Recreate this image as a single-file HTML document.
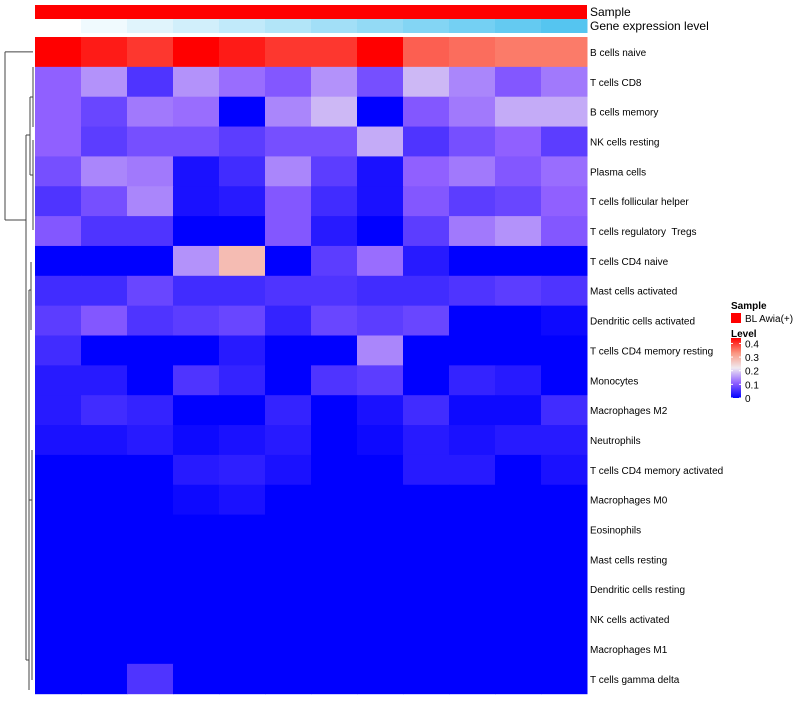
<!DOCTYPE html>
<html><head><meta charset="utf-8"><style>
body{margin:0;background:#fff;}
svg text{font-family:"Liberation Sans",sans-serif;white-space:pre;}
</style></head><body>
<svg id="chart" width="800" height="700" viewBox="0 0 800 700" xmlns="http://www.w3.org/2000/svg">
<g id="dend" stroke="#444" stroke-width="1" fill="none"></g>
<g id="cells"></g>
<g id="labels"></g>
<g id="legend"></g>
</svg>
<script>
const rowNames=["B cells naive","T cells CD8","B cells memory","NK cells resting","Plasma cells","T cells follicular helper","T cells regulatory\u00a0 Tregs","T cells CD4 naive","Mast cells activated","Dendritic cells activated","T cells CD4 memory resting","Monocytes","Macrophages M2","Neutrophils","T cells CD4 memory activated","Macrophages M0","Eosinophils","Mast cells resting","Dendritic cells resting","NK cells activated","Macrophages M1","T cells gamma delta"];
const values=[
[0.44,0.42,0.40,0.44,0.42,0.40,0.40,0.44,0.37,0.36,0.35,0.35],
[0.11,0.15,0.06,0.15,0.12,0.10,0.15,0.09,0.18,0.14,0.10,0.13],
[0.11,0.08,0.13,0.12,0,0.14,0.18,0,0.10,0.13,0.17,0.17],
[0.11,0.07,0.09,0.09,0.07,0.09,0.09,0.17,0.06,0.09,0.11,0.07],
[0.09,0.14,0.13,0.02,0.05,0.14,0.07,0.02,0.11,0.13,0.10,0.12],
[0.06,0.09,0.14,0.02,0.03,0.10,0.05,0.02,0.10,0.07,0.08,0.11],
[0.10,0.06,0.06,0,0,0.10,0.03,0,0.07,0.13,0.15,0.10],
[0,0,0,0.15,0.28,0,0.07,0.12,0.03,0,0,0],
[0.05,0.05,0.08,0.05,0.05,0.06,0.06,0.05,0.05,0.06,0.07,0.06],
[0.07,0.10,0.06,0.07,0.08,0.04,0.08,0.07,0.08,0,0,0.01],
[0.05,0,0,0,0.03,0,0,0.14,0,0,0,0],
[0.03,0.03,0,0.06,0.04,0,0.06,0.07,0,0.04,0.03,0],
[0.03,0.05,0.04,0,0,0.04,0,0.02,0.05,0.01,0.01,0.05],
[0.02,0.02,0.03,0.01,0.02,0.03,0,0.01,0.03,0.02,0.03,0.03],
[0,0,0,0.03,0.035,0.02,0,0,0.03,0.03,0,0.02],
[0,0,0,0.01,0.02,0,0,0,0,0,0,0],
[0,0,0,0,0,0,0,0,0,0,0,0],
[0,0,0,0,0,0,0,0,0,0,0,0],
[0,0,0,0,0,0,0,0,0,0,0,0],
[0,0,0,0,0,0,0,0,0,0,0,0],
[0,0,0,0,0,0,0,0,0,0,0,0],
[0,0,0.06,0,0,0,0,0,0,0,0,0]];
const geneLevel=[0,1,2,3,4,5,6,7,8,9,10,11];
const legendTicks=[0.4,0.3,0.2,0.1,0];

const NS="http://www.w3.org/2000/svg";
const x0=35,cw=46,y0=37,rh=29.85;
const xPos=i=>x0+i*cw, yPos=r=>y0+r*rh;
const stops=[[0,[0,0,255]],[0.11,[144,96,255]],[0.22,[240,234,240]],[0.33,[250,150,128]],[0.44,[255,0,0]]];
function col(v){v=Math.max(0,Math.min(0.44,v));for(let i=0;i<stops.length-1;i++){const[a,ca]=stops[i],[b,cb]=stops[i+1];if(v<=b){const t=(v-a)/(b-a);return`rgb(${ca.map((c,k)=>Math.round(c+(cb[k]-c)*t)).join(',')})`;}}return'red';}
function mk(tag,attrs,parent){const e=document.createElementNS(NS,tag);for(const k in attrs)e.setAttribute(k,attrs[k]);parent.appendChild(e);return e;}
const cells=document.getElementById('cells'),labels=document.getElementById('labels'),leg=document.getElementById('legend');
const sb=mk('rect',{x:x0,y:5,width:cw*12,height:14,fill:'#ff0000'},cells);


const gmax=Math.max(...geneLevel);
geneLevel.forEach((g,i)=>{const t=g/gmax;
 const r=mk('rect',{x:xPos(i),y:19,width:cw+0.5,height:14,fill:`rgb(${Math.round(255-(255-85)*t)},${Math.round(255-(255-197)*t)},${Math.round(255-(255-240)*t)})`},cells);
 
 });
let t1=mk('text',{x:590,y:16,'font-size':12},labels);t1.textContent='Sample';


let t2=mk('text',{x:590,y:30,'font-size':12},labels);t2.textContent='Gene expression level';


values.forEach((row,r)=>{row.forEach((v,c)=>{
 const e=mk('rect',{x:xPos(c),y:yPos(r),width:cw+0.5,height:rh+0.5,fill:col(v)},cells);
 
 });
 const t=mk('text',{x:590,y:yPos(r)+rh/2+4,'font-size':10},labels);t.textContent=rowNames[r];
 
 });
const d=document.getElementById('dend');
const yc=r=>yPos(r)+rh/2;
const segs=[[5,yc(0),5,220],[5,yc(0),33,yc(0)],[5,220,26,220],
[26,135,26,660],[26,135,30,135],[30,97,30,175],[30,97,33,97],[33,67,33,127],[30,175,33,175],[33,140,33,230],
[26,660,29,660],[29,290,29,690],[29,290,31,290],[31,262,31,330],[29,500,32,500],[32,450,32,680]];
segs.forEach(s=>{const l=mk('line',{x1:s[0],y1:s[1],x2:s[2],y2:s[3]},d);
 
 });
let ls=mk('text',{x:731,y:309,'font-size':10,'font-weight':'bold'},leg);ls.textContent='Sample';


let sq=mk('rect',{x:731,y:313,width:10,height:10,fill:'#ff0000'},leg);


let sl=mk('text',{x:745,y:322,'font-size':10},leg);sl.textContent='BL Awia(+)';


let lt=mk('text',{x:731,y:337,'font-size':10,'font-weight':'bold'},leg);lt.textContent='Level';


const defs=mk('defs',{},leg);const gr=mk('linearGradient',{id:'lg',x1:0,y1:1,x2:0,y2:0},defs);
stops.forEach(s=>mk('stop',{offset:s[0]/0.44,'stop-color':col(s[0])},gr));
const lb0=398,lb1=338;const ly=v=>lb0-(v/0.44)*(lb0-lb1);
let bar=mk('rect',{x:731,y:lb1,width:10,height:lb0-lb1,fill:'url(#lg)'},leg);


legendTicks.forEach(v=>{const t=mk('text',{x:745,y:ly(v)+4,'font-size':10},leg);t.textContent=String(v);
 
 
 mk('line',{x1:731,x2:733,y1:ly(v),y2:ly(v),stroke:'#fff'},leg);mk('line',{x1:739,x2:741,y1:ly(v),y2:ly(v),stroke:'#fff'},leg);});
</script>
</body></html>
